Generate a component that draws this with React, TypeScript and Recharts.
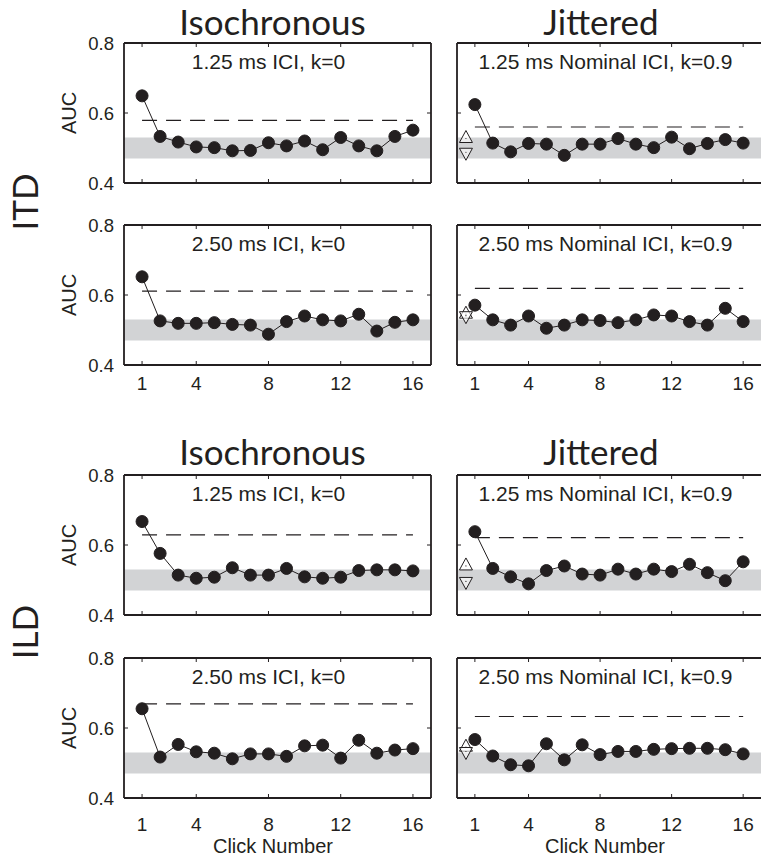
import React from "react";
import {
  ComposedChart,
  Line,
  XAxis,
  YAxis,
  ReferenceArea,
  ReferenceLine,
  ReferenceDot,
} from "recharts";

const CLICKS = [1, 2, 3, 4, 5, 6, 7, 8, 9, 10, 11, 12, 13, 14, 15, 16];
const X_TICKS = [1, 4, 8, 12, 16];
const Y_TICKS = [0.4, 0.6, 0.8];
const CHANCE_BAND = [0.47, 0.53];

// AUC per click
const ITD_ISO_125 = [0.649, 0.533, 0.517, 0.503, 0.501, 0.492, 0.493, 0.515, 0.506, 0.52, 0.495, 0.53, 0.506, 0.492, 0.533, 0.551];
const ITD_JIT_125 = [0.624, 0.514, 0.489, 0.513, 0.511, 0.479, 0.511, 0.511, 0.527, 0.511, 0.501, 0.531, 0.498, 0.513, 0.524, 0.514];
const ITD_ISO_250 = [0.652, 0.526, 0.519, 0.519, 0.521, 0.516, 0.514, 0.488, 0.524, 0.54, 0.529, 0.526, 0.545, 0.497, 0.522, 0.529];
const ITD_JIT_250 = [0.571, 0.529, 0.514, 0.54, 0.505, 0.514, 0.529, 0.527, 0.521, 0.529, 0.543, 0.54, 0.524, 0.514, 0.562, 0.524];
const ILD_ISO_125 = [0.667, 0.576, 0.514, 0.505, 0.508, 0.535, 0.514, 0.514, 0.533, 0.509, 0.505, 0.508, 0.527, 0.529, 0.529, 0.526];
const ILD_JIT_125 = [0.638, 0.533, 0.509, 0.489, 0.527, 0.54, 0.517, 0.514, 0.531, 0.517, 0.531, 0.524, 0.545, 0.521, 0.498, 0.552];
const ILD_ISO_250 = [0.655, 0.517, 0.553, 0.532, 0.528, 0.512, 0.526, 0.526, 0.519, 0.549, 0.551, 0.514, 0.565, 0.528, 0.537, 0.541];
const ILD_JIT_250 = [0.567, 0.52, 0.495, 0.492, 0.555, 0.509, 0.552, 0.524, 0.533, 0.533, 0.539, 0.541, 0.542, 0.542, 0.538, 0.526];

// dashed criterion level per panel: [iso125, jit125, iso250, jit250]
const ITD_CRITERION = [0.579, 0.56, 0.611, 0.619];
const ILD_CRITERION = [0.629, 0.621, 0.669, 0.633];

// open triangles on the jittered panels: [up, down]
const ITD_TRI_125 = [0.53, 0.485];
const ITD_TRI_250 = [0.548, 0.538];
const ILD_TRI_125 = [0.543, 0.493];
const ILD_TRI_250 = [0.548, 0.53];

const INK = "#231f20";
const BAND = "#d2d3d5";
const SANS = "'Liberation Sans', Arial, Helvetica, sans-serif";
const TITLE_FONT = "Lato, 'Open Sans', sans-serif";

const ROW_TOPS = [43, 225, 475, 658];
const PLOT_H = 140;

const TriUp = ({ cx, cy }: any) => (
  <g>
    <polygon
      points={`${cx},${cy - 7} ${cx - 6.5},${cy + 5} ${cx + 6.5},${cy + 5}`}
      fill="#fff"
      fillOpacity={0.6}
      stroke={INK}
      strokeWidth={1}
    />
    <circle cx={cx} cy={cy + 1} r={0.6} fill={INK} />
  </g>
);

const TriDown = ({ cx, cy }: any) => (
  <g>
    <polygon
      points={`${cx},${cy + 7} ${cx - 6.5},${cy - 5} ${cx + 6.5},${cy - 5}`}
      fill="#fff"
      fillOpacity={0.6}
      stroke={INK}
      strokeWidth={1}
    />
    <circle cx={cx} cy={cy - 1} r={0.6} fill={INK} />
  </g>
);

interface PanelProps {
  left: number;
  top: number;
  values: number[];
  criterion: number;
  title: string;
  titleX: number;
  jittered: boolean;
  tri?: number[];
  xLabelDy: number | null;
}

function Panel({ left, top, values, criterion, title, titleX, jittered, tri, xLabelDy }: PanelProps) {
  const data = CLICKS.map((c, i) => ({ click: c, auc: values[i] }));
  // jittered panels run off the right edge of the figure: their box is wider than the page
  const yAxisW = jittered ? 17 : 64;
  const width = jittered ? 340 : 381;
  const xMax = jittered ? 18.06 : 17;
  const height = 10 + PLOT_H + 45;
  const axisLine = { stroke: INK, strokeWidth: 1.8 };

  const bottomTick = (p: any) => (
    <g>
      <line x1={p.x} y1={p.y} x2={p.x} y2={p.y - 4} stroke={INK} strokeWidth={1} />
      {xLabelDy != null && (
        <text x={p.x} y={p.y + xLabelDy} textAnchor="middle" fontSize={19} fontFamily={SANS} fill={INK}>
          {p.payload.value}
        </text>
      )}
    </g>
  );
  const topTick = (p: any) => (
    <line x1={p.x} y1={p.y} x2={p.x} y2={p.y + 4} stroke={INK} strokeWidth={1} />
  );
  const leftTick = (p: any) => (
    <g>
      <line x1={p.x} y1={p.y} x2={p.x + 4} y2={p.y} stroke={INK} strokeWidth={1} />
      {!jittered && (
        <text x={p.x - 10} y={p.y + 6.5} textAnchor="end" fontSize={18.5} fontFamily={SANS} fill={INK}>
          {Number(p.payload.value).toFixed(1)}
        </text>
      )}
    </g>
  );
  const rightTick = (p: any) => (
    <line x1={p.x} y1={p.y} x2={p.x - 4} y2={p.y} stroke={INK} strokeWidth={1} />
  );

  return (
    <div style={{ position: "absolute", left, top: top - 10, width, height }}>
      <ComposedChart
        width={width}
        height={height}
        data={data}
        margin={{ top: 9, right: jittered ? 0 : 9, bottom: 44, left: 0 }}
      >
        <XAxis
          xAxisId="b"
          dataKey="click"
          type="number"
          domain={[0, xMax]}
          allowDataOverflow
          ticks={X_TICKS}
          interval={0}
          height={1}
          tickSize={0}
          tickMargin={0}
          tickLine={false}
          axisLine={axisLine}
          tick={bottomTick}
        />
        <XAxis
          xAxisId="t"
          orientation="top"
          dataKey="click"
          type="number"
          domain={[0, xMax]}
          allowDataOverflow
          ticks={X_TICKS}
          interval={0}
          height={1}
          tickSize={0}
          tickMargin={0}
          tickLine={false}
          axisLine={axisLine}
          tick={topTick}
        />
        <YAxis
          yAxisId="l"
          type="number"
          domain={[0.4, 0.8]}
          allowDataOverflow
          ticks={Y_TICKS}
          interval={0}
          width={yAxisW}
          tickSize={0}
          tickMargin={0}
          tickLine={false}
          axisLine={axisLine}
          tick={leftTick}
        />
        {!jittered && (
          <YAxis
            yAxisId="r"
            orientation="right"
            type="number"
            domain={[0.4, 0.8]}
            allowDataOverflow
            ticks={Y_TICKS}
            interval={0}
            width={1}
            tickSize={0}
            tickMargin={0}
            tickLine={false}
            axisLine={axisLine}
            tick={rightTick}
          />
        )}
        <ReferenceArea
          xAxisId="b"
          yAxisId="l"
          y1={CHANCE_BAND[0]}
          y2={CHANCE_BAND[1]}
          fill={BAND}
          fillOpacity={1}
          stroke="none"
        />
        <ReferenceLine
          xAxisId="b"
          yAxisId="l"
          segment={[
            { x: 1, y: criterion },
            { x: 16, y: criterion },
          ]}
          stroke={INK}
          strokeWidth={1.1}
          strokeDasharray="15 9"
        />
        <Line
          xAxisId="b"
          yAxisId="l"
          dataKey="auc"
          stroke={INK}
          strokeWidth={1}
          dot={{ r: 6, fill: INK, stroke: INK, strokeWidth: 1 }}
          activeDot={false}
          isAnimationActive={false}
        />
        {tri && (
          <ReferenceDot xAxisId="b" yAxisId="l" x={0.5} y={tri[0]} r={6} ifOverflow="visible" shape={TriUp} />
        )}
        {tri && (
          <ReferenceDot xAxisId="b" yAxisId="l" x={0.5} y={tri[1]} r={6} ifOverflow="visible" shape={TriDown} />
        )}
        <ReferenceDot
          xAxisId="b"
          yAxisId="l"
          x={titleX}
          y={0.8}
          r={0}
          fill="none"
          stroke="none"
          ifOverflow="visible"
          label={{ value: title, position: "bottom", offset: 11, fontSize: 21, fontFamily: SANS, fill: INK }}
        />
      </ComposedChart>
    </div>
  );
}

export default function App() {
  const isoX = 8.0;
  const jitX = 8.3;
  return (
    <div
      style={{
        position: "absolute",
        left: 0,
        top: 0,
        width: 761,
        height: 862,
        overflow: "hidden",
        background: "#fff",
      }}
    >
      <Panel left={60} top={ROW_TOPS[0]} values={ITD_ISO_125} criterion={ITD_CRITERION[0]} title="1.25 ms ICI, k=0" titleX={isoX} jittered={false} xLabelDy={null} />
      <Panel left={440} top={ROW_TOPS[0]} values={ITD_JIT_125} criterion={ITD_CRITERION[1]} title="1.25 ms Nominal ICI, k=0.9" titleX={jitX} jittered tri={ITD_TRI_125} xLabelDy={null} />
      <Panel left={60} top={ROW_TOPS[1]} values={ITD_ISO_250} criterion={ITD_CRITERION[2]} title="2.50 ms ICI, k=0" titleX={isoX} jittered={false} xLabelDy={25} />
      <Panel left={440} top={ROW_TOPS[1]} values={ITD_JIT_250} criterion={ITD_CRITERION[3]} title="2.50 ms Nominal ICI, k=0.9" titleX={jitX} jittered tri={ITD_TRI_250} xLabelDy={25} />
      <Panel left={60} top={ROW_TOPS[2]} values={ILD_ISO_125} criterion={ILD_CRITERION[0]} title="1.25 ms ICI, k=0" titleX={isoX} jittered={false} xLabelDy={null} />
      <Panel left={440} top={ROW_TOPS[2]} values={ILD_JIT_125} criterion={ILD_CRITERION[1]} title="1.25 ms Nominal ICI, k=0.9" titleX={jitX} jittered tri={ILD_TRI_125} xLabelDy={null} />
      <Panel left={60} top={ROW_TOPS[3]} values={ILD_ISO_250} criterion={ILD_CRITERION[2]} title="2.50 ms ICI, k=0" titleX={isoX} jittered={false} xLabelDy={33} />
      <Panel left={440} top={ROW_TOPS[3]} values={ILD_JIT_250} criterion={ILD_CRITERION[3]} title="2.50 ms Nominal ICI, k=0.9" titleX={jitX} jittered tri={ILD_TRI_250} xLabelDy={33} />

      <svg
        width={761}
        height={862}
        style={{ position: "absolute", left: 0, top: 0, pointerEvents: "none" }}
      >
        <g fontFamily={TITLE_FONT} fontSize={35} fill={INK} textAnchor="middle">
          <text x={272.5} y={34.5}>Isochronous</text>
          <text x={601} y={34.5}>Jittered</text>
          <text x={272.5} y={465}>Isochronous</text>
          <text x={601} y={465}>Jittered</text>
        </g>
        <g fontFamily={TITLE_FONT} fontSize={35} fill={INK} textAnchor="middle">
          <text transform="translate(38,202) rotate(-90)">ITD</text>
          <text transform="translate(38,632) rotate(-90)">ILD</text>
        </g>
        <g fontFamily={SANS} fontSize={20} fill={INK} textAnchor="middle">
          {ROW_TOPS.map((t) => (
            <text key={t} transform={`translate(76,${t + PLOT_H / 2}) rotate(-90)`}>
              AUC
            </text>
          ))}
          <text x={273} y={853}>Click Number</text>
          <text x={605} y={853}>Click Number</text>
        </g>
      </svg>
    </div>
  );
}
